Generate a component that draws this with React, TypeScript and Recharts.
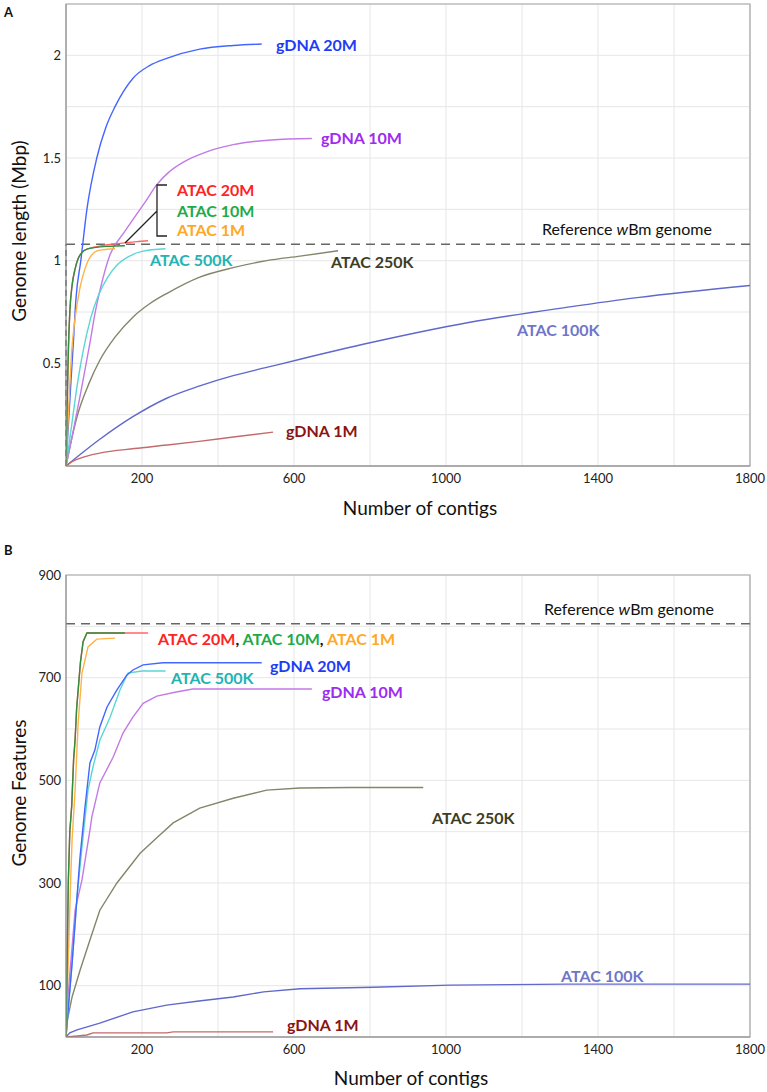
import { LineChart, Line, XAxis, YAxis, CartesianGrid, ReferenceLine, ReferenceArea } from 'recharts'

const FONT = 'Lato, "Noto Sans", sans-serif'

// shared x axis (number of contigs)
const contigTicks = [0, 200, 400, 600, 800, 1000, 1200, 1400, 1600, 1800]
const contigLabelled = [200, 600, 1000, 1400, 1800]

// panel A y axis (Mbp)
const lengthTicks = [0, 0.25, 0.5, 0.75, 1, 1.25, 1.5, 1.75, 2, 2.25]
const lengthLabelled = [0.5, 1, 1.5, 2]
const REF_LENGTH = 1.08

// panel B y axis (features)
const featureTicks = [0, 100, 200, 300, 400, 500, 600, 700, 800, 900]
const featureLabelled = [100, 300, 500, 700, 900]
const REF_FEATURES = 805

// ---- panel A: genome length (Mbp) ----
const gdna20A_x = [0, 5, 12, 20, 26, 39, 55, 81, 105, 129, 177, 220, 265, 352, 440, 515]
const gdna20A_y = [0, 0.16, 0.38, 0.62, 0.81, 1.0, 1.25, 1.5, 1.65, 1.75, 1.89, 1.95, 1.985, 2.03, 2.048, 2.055]
const gdna10A_x = [0, 20, 40, 63, 76, 90, 116, 150, 176, 210, 239, 270, 309, 370, 440, 540, 647]
const gdna10A_y = [0, 0.18, 0.37, 0.6, 0.74, 0.86, 1.03, 1.13, 1.2, 1.29, 1.37, 1.43, 1.48, 1.53, 1.565, 1.588, 1.595]
const atac20A_x = [0, 3, 6, 10, 16, 24, 32, 42, 55, 81, 100, 130, 160, 190, 216]
const atac20A_y = [0, 0.3, 0.55, 0.75, 0.88, 0.96, 1.01, 1.04, 1.056, 1.068, 1.075, 1.082, 1.088, 1.093, 1.097]
const atac10A_x = [0, 3, 6, 10, 16, 24, 32, 42, 55, 80, 110, 155]
const atac10A_y = [0, 0.3, 0.55, 0.75, 0.88, 0.96, 1.01, 1.04, 1.056, 1.065, 1.07, 1.073]
const atac1mA_x = [0, 5, 10, 15, 24, 37, 50, 63, 86, 129]
const atac1mA_y = [0, 0.2, 0.4, 0.56, 0.72, 0.87, 0.96, 1.016, 1.05, 1.058]
const atac500A_x = [0, 15, 30, 45, 65, 85, 110, 135, 165, 200, 262]
const atac500A_y = [0, 0.2, 0.4, 0.56, 0.72, 0.83, 0.92, 0.98, 1.02, 1.045, 1.058]
const atac250A_x = [0, 10, 29, 60, 89, 130, 176, 220, 265, 352, 440, 528, 616, 716]
const atac250A_y = [0, 0.09, 0.24, 0.4, 0.515, 0.63, 0.725, 0.79, 0.84, 0.92, 0.966, 1.0, 1.022, 1.048]
const atac100A_x = [0, 89, 176, 265, 352, 440, 528, 616, 800, 1063, 1326, 1503, 1800]
const atac100A_y = [0, 0.13, 0.24, 0.33, 0.39, 0.44, 0.48, 0.52, 0.6, 0.7, 0.775, 0.82, 0.879]
const gdna1A_x = [0, 15, 40, 89, 180, 265, 350, 440, 545]
const gdna1A_y = [0, 0.02, 0.04, 0.063, 0.085, 0.102, 0.12, 0.141, 0.165]

// ---- panel B: genome features ----
const atac20B_x = [0, 3, 6, 10, 15, 20, 24, 28, 32, 38, 45, 55, 216]
const atac20B_y = [0, 150, 300, 400, 450, 540, 580, 640, 676, 730, 770, 787, 787]
const atac10B_x = [0, 3, 6, 10, 15, 20, 24, 28, 32, 38, 45, 55, 155]
const atac10B_y = [0, 150, 300, 400, 450, 540, 580, 640, 676, 730, 770, 787, 787]
const atac1mB_x = [0, 4, 8, 12, 16, 24, 32, 42, 58, 81, 129]
const atac1mB_y = [0, 100, 200, 300, 384, 481, 612, 709, 760, 775, 777]
const gdna20B_x = [0, 5, 16, 29, 37, 50, 63, 76, 89, 108, 134, 160, 176, 203, 255, 515]
const gdna20B_y = [0, 47, 144, 273, 351, 448, 534, 559, 604, 643, 676, 705, 715, 725, 729, 729]
const atac500B_x = [0, 16, 29, 42, 58, 71, 89, 116, 142, 163, 200, 262]
const atac500B_y = [0, 144, 273, 370, 481, 526, 578, 623, 676, 709, 713, 713]
const gdna10B_x = [0, 5, 16, 24, 42, 63, 68, 89, 124, 150, 176, 203, 239, 290, 334, 647]
const gdna10B_y = [0, 78, 175, 247, 306, 403, 429, 495, 545, 592, 623, 650, 664, 672, 678, 678]
const atac250B_x = [0, 2, 16, 37, 63, 89, 134, 195, 239, 282, 352, 440, 528, 616, 750, 940]
const atac250B_y = [0, 27, 78, 130, 189, 247, 300, 358, 388, 417, 446, 465, 481, 485, 486, 486]
const atac100B_x = [0, 10, 29, 89, 176, 265, 350, 440, 520, 616, 808, 1011, 1318, 1800]
const atac100B_y = [0, 8, 14, 27, 49, 62, 70, 78, 88, 94, 97, 101, 103, 103]
const gdna1B_x = [0, 30, 55, 71, 265, 282, 545]
const gdna1B_y = [0, 2, 4, 8, 8, 10, 10]

const zip = (xs: number[], ys: number[]) => xs.map((x, i) => ({ x, y: ys[i] }))

// drawing order: back to front
const series = [
  { key: 'atac100', line: '#6068cc', a: zip(atac100A_x, atac100A_y), b: zip(atac100B_x, atac100B_y) },
  { key: 'gdna1', line: '#c46a6a', a: zip(gdna1A_x, gdna1A_y), b: zip(gdna1B_x, gdna1B_y) },
  { key: 'atac250', line: '#85856a', a: zip(atac250A_x, atac250A_y), b: zip(atac250B_x, atac250B_y) },
  { key: 'gdna10', line: '#c27ae6', a: zip(gdna10A_x, gdna10A_y), b: zip(gdna10B_x, gdna10B_y) },
  { key: 'atac500', line: '#5ad6d6', a: zip(atac500A_x, atac500A_y), b: zip(atac500B_x, atac500B_y) },
  { key: 'gdna20', line: '#4466ff', a: zip(gdna20A_x, gdna20A_y), b: zip(gdna20B_x, gdna20B_y) },
  { key: 'atac1m', line: '#ffb347', a: zip(atac1mA_x, atac1mA_y), b: zip(atac1mB_x, atac1mB_y) },
  { key: 'atac20', line: '#ff6666', a: zip(atac20A_x, atac20A_y), b: zip(atac20B_x, atac20B_y) },
  { key: 'atac10', line: '#2f8f3f', a: zip(atac10A_x, atac10A_y), b: zip(atac10B_x, atac10B_y) },
]

const tickStyle = { fill: '#222', fontSize: 13, fontFamily: FONT }
const labelStyle = { fontFamily: FONT, fontWeight: 700, fontSize: 16 }

function Frame({ top, height, marginTop, marginBottom, yTicks, yLabelled, yMax, refY, panel }: any) {
  return (
    <div style={{ position: 'absolute', left: 0, top }}>
      <LineChart width={767} height={height} margin={{ top: marginTop, right: 17, bottom: marginBottom, left: 0 }}>
        <CartesianGrid stroke="#e6e6e6" strokeWidth={1} />
        <XAxis
          type="number"
          dataKey="x"
          domain={[0, 1800]}
          ticks={contigTicks}
          tickFormatter={(v: number) => (contigLabelled.includes(v) ? String(v) : '')}
          tick={tickStyle}
          tickLine={false}
          axisLine={{ stroke: '#8c8c8c' }}
          height={30}
          allowDataOverflow
        />
        <YAxis
          type="number"
          dataKey="y"
          domain={[0, yMax]}
          ticks={yTicks}
          tickFormatter={(v: number) => (yLabelled.includes(v) ? String(v) : '')}
          tick={tickStyle}
          tickLine={false}
          tickSize={3}
          axisLine={{ stroke: '#9a9a9a' }}
          width={66}
          allowDataOverflow
        />
        <ReferenceArea x1={0} x2={1800} y1={0} y2={yMax} fill="none" stroke="#a6a6a6" strokeWidth={1.2} />
        <ReferenceLine y={refY} stroke="#666" strokeWidth={1.4} strokeDasharray="9 6" />
        {panel === 'a' && (
          <ReferenceLine segment={[{ x: 0, y: 0 }, { x: 0, y: refY }]} stroke="#555" strokeWidth={1.4} strokeDasharray="6 4" />
        )}
        {series.map((s) => (
          <Line
            key={s.key}
            data={panel === 'a' ? s.a : s.b}
            dataKey="y"
            type={panel === 'a' ? 'monotone' : 'linear'}
            stroke={s.line}
            strokeWidth={1.4}
            dot={false}
            isAnimationActive={false}
          />
        ))}
      </LineChart>
    </div>
  )
}

export default function App() {
  return (
    <div style={{ position: 'absolute', left: 0, top: 0, width: 767, height: 1092, background: '#fff' }}>
      <Frame top={0} height={530} marginTop={4} marginBottom={34} yTicks={lengthTicks} yLabelled={lengthLabelled} yMax={2.25} refY={REF_LENGTH} panel="a" />
      <Frame top={545} height={547} marginTop={30} marginBottom={25} yTicks={featureTicks} yLabelled={featureLabelled} yMax={900} refY={REF_FEATURES} panel="b" />
      <svg width={767} height={1092} style={{ position: 'absolute', left: 0, top: 0, pointerEvents: 'none' }}>
        {/* panel letters */}
        <text x={4} y={17} fontFamily={FONT} fontWeight={700} fontSize={13} fill="#111">A</text>
        <text x={4} y={555} fontFamily={FONT} fontWeight={700} fontSize={13} fill="#111">B</text>

        {/* axis titles */}
        <text x={420} y={515} textAnchor="middle" fontFamily={FONT} fontSize={19} fill="#111">Number of contigs</text>
        <text x={411} y={1085} textAnchor="middle" fontFamily={FONT} fontSize={19} fill="#111">Number of contigs</text>
        <text transform="translate(26,231) rotate(-90)" textAnchor="middle" fontFamily={FONT} fontSize={19} fill="#111">Genome length (Mbp)</text>
        <text transform="translate(26,793) rotate(-90)" textAnchor="middle" fontFamily={FONT} fontSize={19} fill="#111">Genome Features</text>

        {/* reference annotations */}
        <text x={542} y={235} fontFamily={FONT} fontSize={16} fill="#111">
          Reference <tspan fontStyle="italic">w</tspan>Bm genome
        </text>
        <text x={544} y={615} fontFamily={FONT} fontSize={16} fill="#111">
          Reference <tspan fontStyle="italic">w</tspan>Bm genome
        </text>

        {/* panel A series labels */}
        <text x={276} y={51} {...labelStyle} fill="#1f3cf5">gDNA 20M</text>
        <text x={321} y={144} {...labelStyle} fill="#9d2cf0">gDNA 10M</text>
        <text x={177} y={196} {...labelStyle} fill="#ff2424">ATAC 20M</text>
        <text x={177} y={217} {...labelStyle} fill="#1faa4a">ATAC 10M</text>
        <text x={177} y={236} {...labelStyle} fill="#ffa726">ATAC 1M</text>
        <text x={150} y={266} {...labelStyle} fill="#22b3b3">ATAC 500K</text>
        <text x={331} y={268} {...labelStyle} fill="#3d3d1f">ATAC 250K</text>
        <text x={517} y={336} {...labelStyle} fill="#6f76c9">ATAC 100K</text>
        <text x={286} y={437} {...labelStyle} fill="#8b1414">gDNA 1M</text>
        <path d="M167 185 H157 V236 H167 M157 211 L125 243" fill="none" stroke="#222" strokeWidth={1.3} />

        {/* panel B series labels */}
        <text x={158} y={645} {...labelStyle}>
          <tspan fill="#ff2424">ATAC 20M</tspan>
          <tspan fill="#111">, </tspan>
          <tspan fill="#1faa4a">ATAC 10M</tspan>
          <tspan fill="#111">, </tspan>
          <tspan fill="#ffa726">ATAC 1M</tspan>
        </text>
        <text x={270} y={672} {...labelStyle} fill="#1f3cf5">gDNA 20M</text>
        <text x={171} y={684} {...labelStyle} fill="#22b3b3">ATAC 500K</text>
        <text x={322} y={698} {...labelStyle} fill="#9d2cf0">gDNA 10M</text>
        <text x={432} y={824} {...labelStyle} fill="#3d3d1f">ATAC 250K</text>
        <text x={561} y={982} {...labelStyle} fill="#6f76c9">ATAC 100K</text>
        <text x={287} y={1031} {...labelStyle} fill="#8b1414">gDNA 1M</text>
      </svg>
    </div>
  )
}
